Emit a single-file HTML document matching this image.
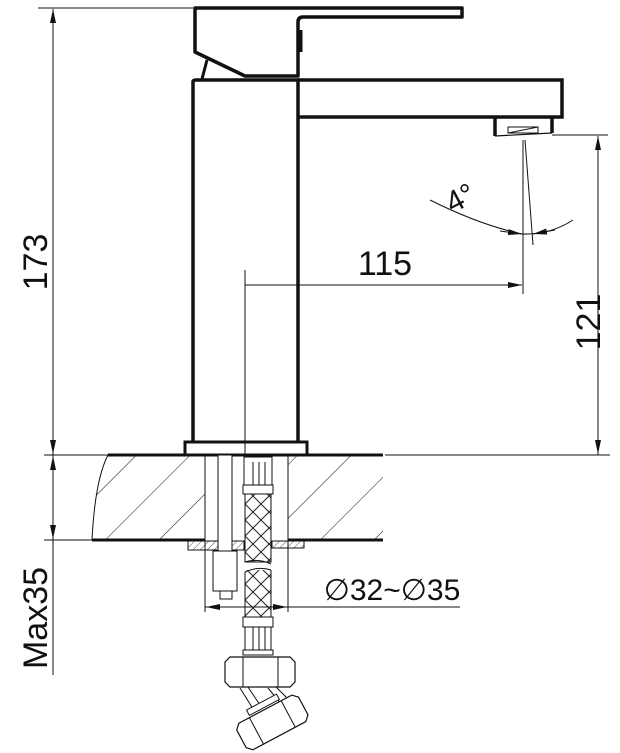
<!DOCTYPE html>
<html><head><meta charset="utf-8"><style>
html,body{margin:0;padding:0;background:#fff;}
svg{display:block;}
text{font-family:"Liberation Sans",sans-serif;fill:#111;}
</style></head><body>
<svg width="620" height="753" viewBox="0 0 620 753" xmlns="http://www.w3.org/2000/svg">
<defs>
<pattern id="hatch" patternUnits="userSpaceOnUse" width="38" height="38" patternTransform="rotate(45)">
<line x1="0" y1="0" x2="0" y2="38" stroke="#222" stroke-width="1.1"/>
</pattern>
<pattern id="hatchs" patternUnits="userSpaceOnUse" width="5" height="5" patternTransform="rotate(45)">
<line x1="0" y1="0" x2="0" y2="5" stroke="#222" stroke-width="0.8"/>
</pattern>
<pattern id="braid" patternUnits="userSpaceOnUse" width="16" height="16" x="245" y="0">
<path d="M0 8 L8 0 M8 16 L16 8 M0 8 L8 16 M8 0 L16 8" stroke="#222" stroke-width="1" fill="none"/>
</pattern>
<marker id="ar" markerWidth="14" markerHeight="6" refX="14" refY="3" orient="auto" markerUnits="userSpaceOnUse">
<path d="M0 0 L14 3 L0 6 Z" fill="#111"/>
</marker>
</defs>
<g stroke="#111" fill="none">
<line x1="38" y1="8" x2="193" y2="8" stroke-width="1"/>
<line x1="53" y1="22" x2="53" y2="675" stroke-width="1"/>
<line x1="53" y1="30" x2="53" y2="9" marker-end="url(#ar)" stroke-width="1"/>
<line x1="53" y1="430" x2="53" y2="454" marker-end="url(#ar)" stroke-width="1"/>
<line x1="53" y1="480" x2="53" y2="456" marker-end="url(#ar)" stroke-width="1"/>
<line x1="53" y1="515" x2="53" y2="539" marker-end="url(#ar)" stroke-width="1"/>
<line x1="44" y1="455" x2="110" y2="455" stroke-width="1"/>
<line x1="44" y1="540" x2="92" y2="540" stroke-width="1"/>

<path d="M195 8 H462 V17 H303 Q298 17 298 22 V76 H245 L195 52 Z" stroke-width="3.5" stroke-linejoin="round"/>
<path d="M300 30 V52" stroke-width="5"/>
<line x1="202" y1="79" x2="207" y2="60" stroke-width="3"/>
<path d="M193 442 V82 Q193 80 196 80 H298 V442" stroke-width="3.5"/>
<path d="M298 80 H562 V117 H298" stroke-width="3.5"/>
<path d="M495 117 V136 M552 117 V133" stroke-width="3.5"/>
<line x1="495" y1="136" x2="552" y2="133" stroke-width="1.2"/>
<rect x="508" y="127" width="30" height="6" stroke-width="1"/>
<line x1="508" y1="133" x2="538" y2="127" stroke-width="1"/>
<rect x="185" y="442" width="122" height="13" stroke-width="3"/>

<path d="M108 455 Q95 480 92 540 H205 V455 Z" fill="url(#hatch)" stroke="none"/>
<path d="M288 455 H383 V540 H288 Z" fill="url(#hatch)" stroke="none"/>
<path d="M108 455 Q95 480 92 540" stroke-width="1"/>
<line x1="108" y1="455" x2="383" y2="455" stroke-width="3"/>
<line x1="92" y1="540" x2="205" y2="540" stroke-width="3"/>
<line x1="288" y1="540" x2="383" y2="540" stroke-width="3"/>
<line x1="385" y1="455" x2="610" y2="455" stroke-width="1"/>
<line x1="205" y1="455" x2="205" y2="612" stroke-width="1"/>
<line x1="288" y1="455" x2="288" y2="612" stroke-width="1"/>
<line x1="245" y1="270" x2="245" y2="455" stroke-width="1"/>
<rect x="188" y="541" width="30" height="9" fill="url(#hatchs)" stroke-width="1"/>
<rect x="232" y="541" width="12" height="9" fill="url(#hatchs)" stroke-width="1"/>
<rect x="272" y="541" width="32" height="7" fill="url(#hatchs)" stroke-width="1"/>
<rect x="218" y="455" width="14" height="96" fill="#fff" stroke-width="1"/>
<rect x="213" y="551" width="24" height="40" fill="#fff" stroke-width="1"/>
<rect x="220" y="591" width="12" height="8" fill="#fff" stroke-width="1"/>
<rect x="244" y="457" width="28" height="30" fill="#fff" stroke-width="1"/>
<path d="M253 462 V485 M259 462 V485 M265 462 V485" stroke-width="1"/>
<rect x="243" y="485" width="30" height="9" fill="#fff" stroke-width="1"/>
<rect x="245" y="494" width="26" height="68" fill="url(#braid)" stroke-width="1"/>
<path d="M245 562 Q258 558 271 564" stroke-width="1"/>
<path d="M245 572 Q258 566 271 570" stroke-width="1"/>
<rect x="245" y="570" width="26" height="47" fill="url(#braid)" stroke="none"/>
<path d="M245 572 V617 M271 570 V617" stroke-width="1"/>
<rect x="243" y="617" width="30" height="10" fill="#fff" stroke-width="1"/>
<rect x="245" y="627" width="26" height="23" fill="#fff" stroke-width="1"/>
<path d="M253 627 V650 M259 627 V650 M265 627 V650" stroke-width="1"/>
<rect x="243" y="650" width="30" height="5" fill="#fff" stroke-width="1"/>
<path d="M230 657 H290 L295 662 V682 L290 687 H230 L225 682 V662 Z" fill="#fff" stroke-width="1.2"/>
<path d="M243 657 V687 M278 657 V687" stroke-width="1"/>
<path d="M240 688 L255 712 M248 687 L262 708 M276 687 L292 703 M268 688 L282 705" stroke-width="1"/>
<g transform="rotate(-28 270 718)">
<rect x="253" y="700" width="34" height="6" fill="#fff" stroke-width="1"/>
<path d="M240 708 H300 L305 713 V733 L300 738 H240 L235 733 V713 Z" fill="#fff" stroke-width="1.2"/>
<path d="M252 708 V738 M288 708 V738" stroke-width="1"/>
</g>
<line x1="205" y1="607" x2="460" y2="607" stroke-width="1"/>
<line x1="235" y1="607" x2="206" y2="607" marker-end="url(#ar)" stroke-width="1"/>
<line x1="258" y1="607" x2="287" y2="607" marker-end="url(#ar)" stroke-width="1"/>

<line x1="245" y1="285" x2="522" y2="285" marker-end="url(#ar)" stroke-width="1"/>
<line x1="523" y1="140" x2="523" y2="294" stroke-width="1"/>
<line x1="525" y1="140" x2="533" y2="245" stroke-width="1"/>
<path d="M430 200 Q480 225 522 234 Q550 235 573 220" stroke-width="1"/>
<line x1="500" y1="231" x2="522" y2="234" marker-end="url(#ar)" stroke-width="1"/>
<line x1="555" y1="230" x2="533" y2="234" marker-end="url(#ar)" stroke-width="1"/>
<line x1="552" y1="135" x2="608" y2="135" stroke-width="1"/>
<line x1="598" y1="455" x2="598" y2="136" marker-end="url(#ar)" stroke-width="1"/>
<line x1="598" y1="420" x2="598" y2="454" marker-end="url(#ar)" stroke-width="1"/>
</g>
<text x="0" y="0" font-size="34" transform="translate(47 262) rotate(-90)" text-anchor="middle">173</text>
<text x="0" y="0" font-size="34" transform="translate(47 618) rotate(-90)" text-anchor="middle">Max35</text>
<text x="385" y="275" font-size="34" text-anchor="middle">115</text>
<text x="0" y="0" font-size="34" transform="translate(600 322) rotate(-90)" text-anchor="middle">121</text>
<text x="0" y="0" font-size="30" transform="translate(465 207) rotate(-28)" text-anchor="middle">4°</text>
<text x="392" y="600" font-size="30" text-anchor="middle">∅32~∅35</text>
</svg>
</body></html>
